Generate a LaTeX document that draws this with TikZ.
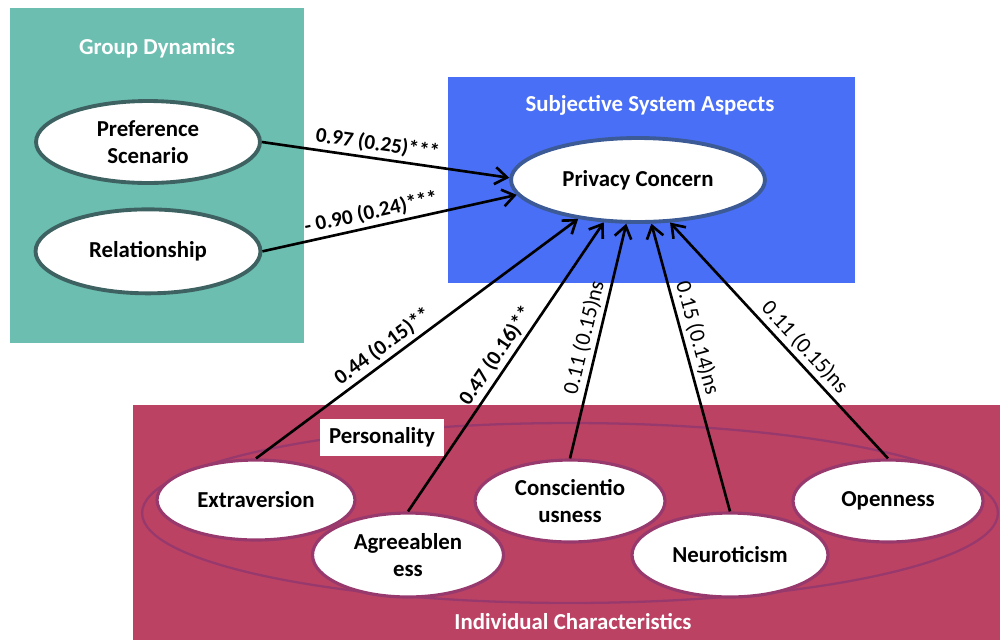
\documentclass[tikz,border=0pt]{standalone}
\usepackage{fontspec}
\setmainfont{Carlito}
\usetikzlibrary{shapes.geometric, positioning, arrows.meta}
\definecolor{groupteal}{RGB}{108,190,176}
\definecolor{subjblue}{RGB}{74,111,247}
\definecolor{indivred}{RGB}{188,66,100}
\definecolor{tealedge}{RGB}{62,98,98}
\definecolor{blueedge}{RGB}{60,90,150}
\definecolor{plumedge}{RGB}{152,57,110}
\tikzset{
x=0.02cm, y=-0.02cm, % one unit is one pixel of the layout
>={Straight Barb[length=2.4mm,width=3.4mm]}, % open arrow heads
construct/.style={ellipse, fill=white, line width=2.2pt, align=center, inner sep=0pt,
  font=\bfseries\fontsize{13}{15.5}\selectfont}, % white latent constructs
group/.style={construct, draw=tealedge},
subj/.style={construct, draw=blueedge},
trait/.style={construct, draw=plumedge, line width=1.8pt},
boxtitle/.style={text=white, font=\bfseries\fontsize{13}{15.5}\selectfont},
effect/.style={->, line width=1.5pt}, % path coefficients
coef/.style={sloped, above, inner sep=2pt, font=\bfseries\fontsize{12}{14}\selectfont},
nscoef/.style={coef, font=\fontsize{12.5}{14}\selectfont},
}
\begin{document}
\begin{tikzpicture}
\useasboundingbox (0,0) rectangle (1000,640);
% the three areas
\fill[groupteal] (10,8) rectangle (304,343);
\fill[subjblue] (448,77) rectangle (855,283);
\fill[indivred] (133,405) rectangle (1000,640);
\node[boxtitle] (gdtitle) at (157,48) {Group Dynamics};
\node[boxtitle] (sstitle) at (650,105) {Subjective System Aspects};
\node[boxtitle] (ictitle) at (573,622) {Individual Characteristics};

% constructs
\node[group, minimum width=4.48cm, minimum height=1.64cm] (pref) at (148,142) {Preference\\Scenario};
\node[group, minimum width=4.5cm, minimum height=1.68cm, below=0.45cm of pref] (rel) {Relationship};
\node[subj, minimum width=5.08cm, minimum height=1.68cm] (pc) at (638,180) {Privacy Concern};

% personality
\node[ellipse, draw=plumedge, line width=1.3pt, minimum width=17.12cm, minimum height=3.6cm] (pers) at (570,513) {};
\node[fill=white, minimum width=2.5cm, minimum height=0.74cm, font=\bfseries\fontsize{13}{15.5}\selectfont] (perslabel) at (382,437) {Personality};
\node[trait, minimum width=3.96cm, minimum height=1.6cm] (ext) at (256,500) {Extraversion};
\node[trait, minimum width=3.8cm, minimum height=1.64cm] (con) at (570,501) {Conscientio\\usness};
\node[trait, minimum width=3.8cm, minimum height=1.64cm] (ope) at (888,501) {Openness};
\node[trait, minimum width=3.82cm, minimum height=1.68cm] (agr) at (408,555) {Agreeablen\\ess};
\node[trait, minimum width=3.92cm, minimum height=1.68cm] (neu) at (730,555) {Neuroticism};

\path
(pref.east) edge[effect] node[coef, pos=0.46] {0.97 (0.25)***} (pc.179)
(rel.east) edge[effect] node[coef, pos=0.44] {- 0.90 (0.24)***} (pc.187)
(ext.north) edge[effect] node[coef, pos=0.42] {0.44 (0.15)**} (pc.213)
(agr.north) edge[effect] node[coef, pos=0.51] {0.47 (0.16)**} (pc.231)
(con.north) edge[effect] node[nscoef, pos=0.5] {0.11 (0.15)ns} (pc.255)
(neu.north) edge[effect] node[nscoef, pos=0.59] {0.15 (0.14)ns} (pc.287)
(ope.north) edge[effect] node[nscoef, pos=0.43] {0.11 (0.15)ns} (pc.307)
;
\end{tikzpicture}
\end{document}
